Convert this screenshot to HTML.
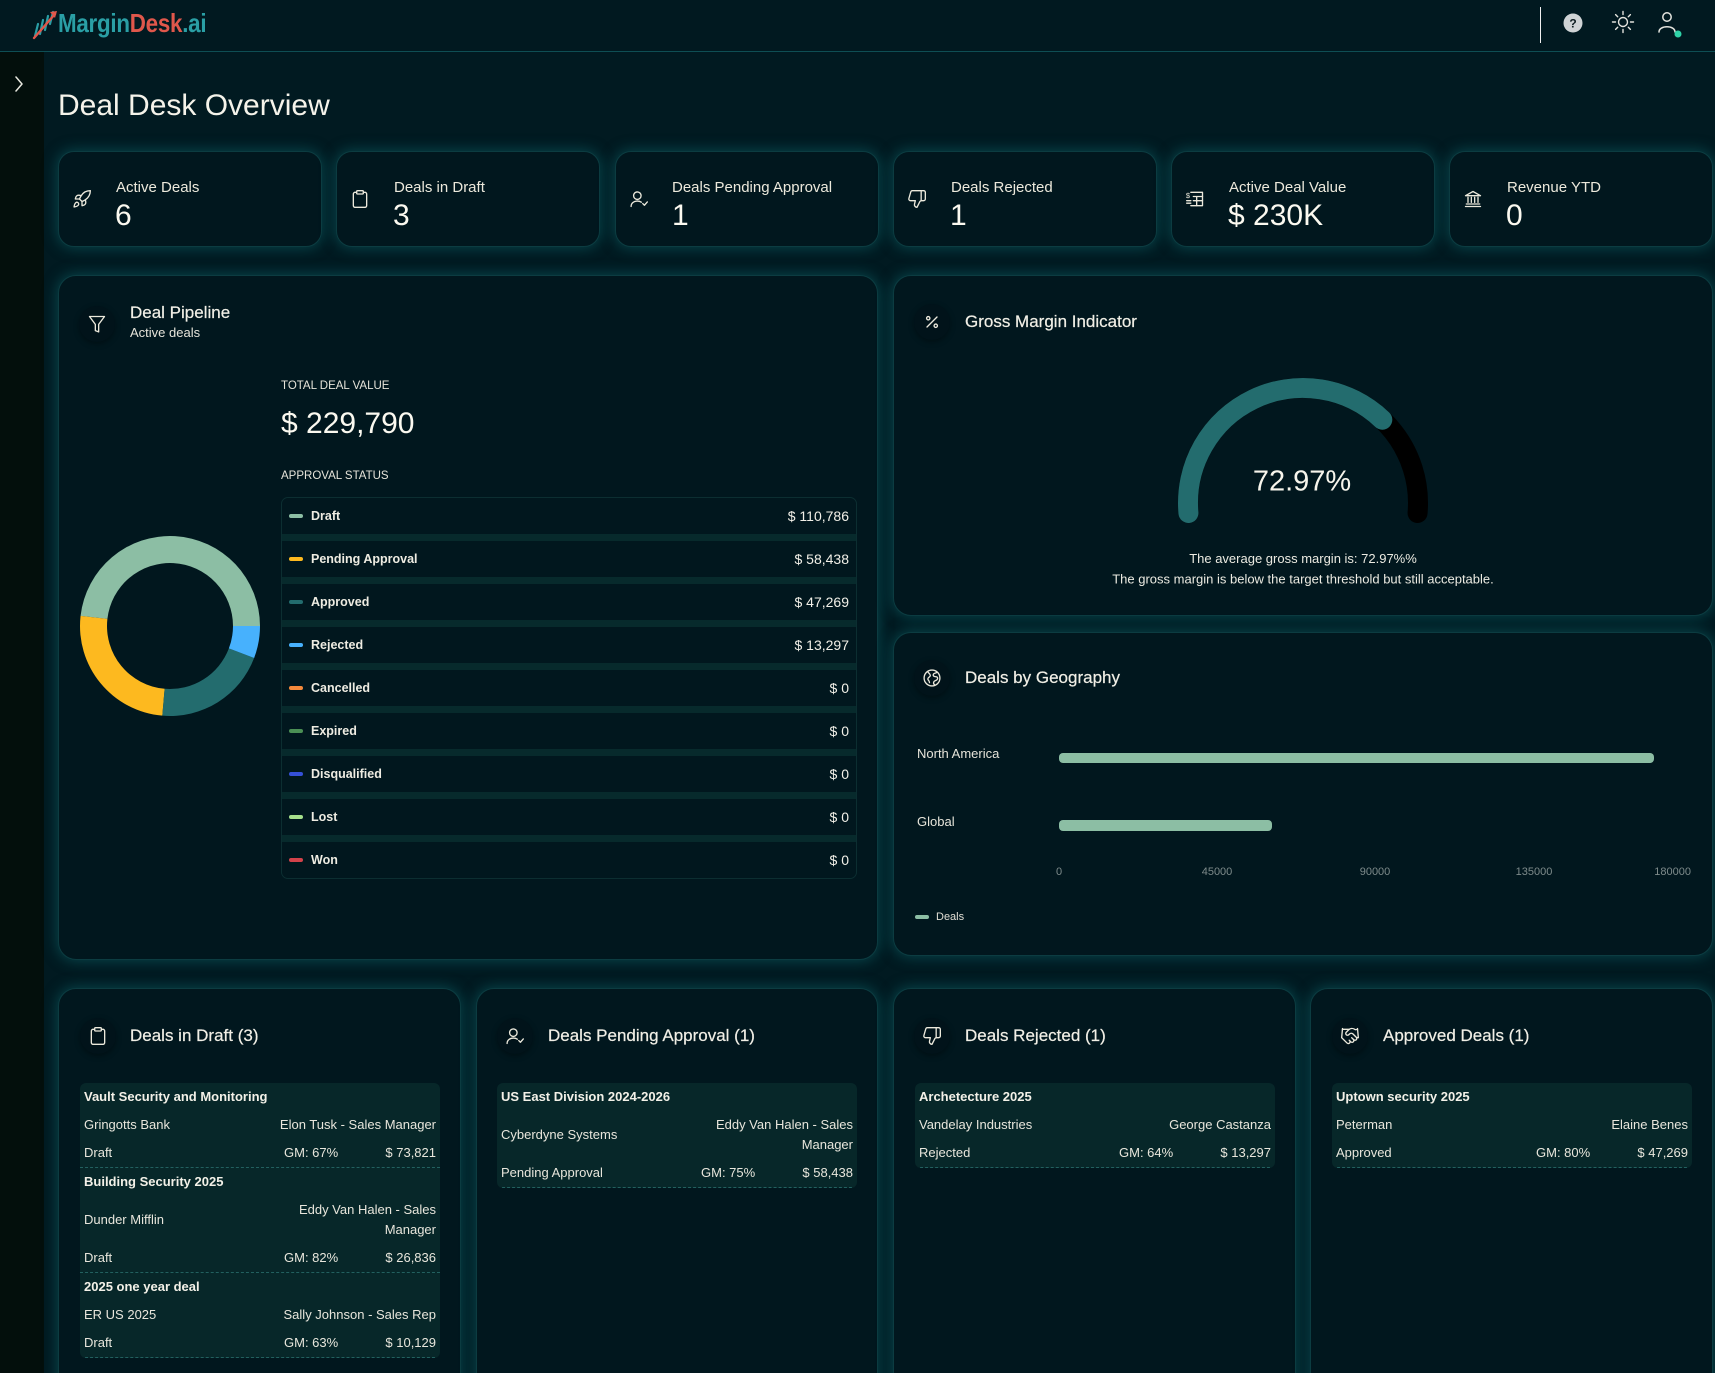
<!DOCTYPE html>
<html><head><meta charset="utf-8">
<style>
*{box-sizing:border-box;margin:0;padding:0}
html,body{width:1715px;height:1373px;overflow:hidden;background:#011a21;font-family:"Liberation Sans",Arial,sans-serif;color:#eeece2}
#wrap{position:relative;width:1715px;height:1373px;overflow:hidden;background:#011a21}
.a{position:absolute;white-space:nowrap}
.card{position:absolute;background:#01171e;border:1px solid #0c3c41;border-radius:18px;box-shadow:0 0 14px 1px rgba(14,105,112,.55)}
.kpi{top:151px;width:264px;height:96px;border-radius:16px}
.lb{font-size:15px;line-height:18px;color:#ece9dc}
.vl{font-size:30px;line-height:34px;color:#fbf9f0}
.ic{position:absolute;width:20px;height:20px}
.ic svg,.circ svg{width:20px;height:20px;fill:none;stroke:#ece9dc;stroke-width:1.6;stroke-linecap:round;stroke-linejoin:round}
.circ{position:absolute;width:36px;height:36px;border-radius:50%;background:#01131a;box-shadow:0 2px 6px rgba(0,0,0,.35);display:flex;align-items:center;justify-content:center}
.ctitle{font-size:17px;line-height:20px;color:#f1efe6;-webkit-text-stroke:0.2px #f1efe6}
.plist{position:absolute;left:281px;top:497px;width:576px;height:382px;border:1px solid #0c2e31;border-radius:7px;background:#072a2c;overflow:hidden}
.prow{position:relative;height:36px;background:#01171e;margin-bottom:7px}
.prow:last-child{margin-bottom:0}
.prow .d{position:absolute;left:7px;top:16px;width:14px;height:4px;border-radius:2px}
.prow .n{position:absolute;left:29px;top:9px;font-size:12.5px;line-height:18px;font-weight:bold;color:#eeece2}
.prow .v{position:absolute;right:7px;top:9px;font-size:14px;line-height:18px;color:#f2f0e8}
.dl{position:absolute;top:1083px;width:360px;background:#072729;border-radius:6px;overflow:hidden;font-size:13px;color:#e8e6dc}
.it{padding:4px 4px 5px;border-bottom:1px dashed #22605f}
.it .t{font-weight:bold;line-height:20px;color:#f3f1e8}
.it .r2{display:flex;justify-content:space-between;align-items:center;margin-top:8px;line-height:20px}
.it .r2 div{width:50%}
.it .r2 .rt{text-align:right}
.it .r3{position:relative;height:19px;line-height:19px;margin-top:8px}
.it .r3 .gm{position:absolute;left:200px;top:0}
.it .r3 .am{position:absolute;right:0;top:0}
</style></head><body><div id="wrap">

<!-- header -->
<div class="a" style="left:0;top:0;width:1715px;height:52px;background:#011920;border-bottom:1px solid #0e4e54"></div>
<svg class="a" style="left:31px;top:8px" width="28" height="32" viewBox="0 0 28 32">
 <g stroke="#2a9ea5" stroke-width="2.2" fill="none" stroke-linecap="round">
  <line x1="4" y1="28" x2="7" y2="16"/><line x1="9" y1="26" x2="12" y2="12"/><line x1="14" y1="22" x2="17" y2="8"/><line x1="19" y1="16" x2="22" y2="4"/>
 </g>
 <line x1="3" y1="30" x2="24" y2="6" stroke="#e0574b" stroke-width="2.4" stroke-linecap="round"/>
 <path d="M19 4 L26 3 L24 10 Z" fill="#e0574b"/>
</svg>
<div class="a" style="left:58px;top:7px;font-size:26px;line-height:32px;font-weight:bold;transform:scaleX(.86);transform-origin:left center;letter-spacing:-0.3px"><span style="color:#2a9fa5">Margin</span><span style="color:#e0574b">Desk</span><span style="color:#2a9fa5">.ai</span></div>
<div class="a" style="left:1540px;top:7px;width:1px;height:36px;background:#f0f0f0"></div>
<svg class="a" style="left:1562px;top:12px" width="22" height="22" viewBox="0 0 22 22"><circle cx="11" cy="11" r="9.5" fill="#cfd3d5"/><text x="11" y="15.5" text-anchor="middle" font-family="Liberation Sans" font-weight="bold" font-size="12" fill="#0b1a1e">?</text></svg>
<svg class="a" style="left:1611px;top:10px" width="24" height="24" viewBox="0 0 24 24" fill="none" stroke="#e4e4de" stroke-width="1.4" stroke-linecap="round"><circle cx="12" cy="12" r="4.5"/><line x1="12" y1="1.5" x2="12" y2="4.5"/><line x1="12" y1="19.5" x2="12" y2="22.5"/><line x1="1.5" y1="12" x2="4.5" y2="12"/><line x1="19.5" y1="12" x2="22.5" y2="12"/><line x1="4.6" y1="4.6" x2="6.7" y2="6.7"/><line x1="17.3" y1="17.3" x2="19.4" y2="19.4"/><line x1="4.6" y1="19.4" x2="6.7" y2="17.3"/><line x1="17.3" y1="6.7" x2="19.4" y2="4.6"/></svg>
<svg class="a" style="left:1655px;top:10px" width="30" height="30" viewBox="0 0 30 30" fill="none" stroke="#e4e4de" stroke-width="1.5" stroke-linecap="round"><circle cx="12" cy="7" r="4.2"/><path d="M4 22 C4 15 20 15 20 22"/><circle cx="23" cy="24" r="3.5" fill="#2fd3a8" stroke="none"/></svg>

<!-- sidebar -->
<div class="a" style="left:0;top:52px;width:44px;height:1321px;background:#030f0c"></div>
<svg class="a" style="left:13px;top:76px" width="12" height="16" viewBox="0 0 12 16" fill="none" stroke="#e8e8e0" stroke-width="1.5" stroke-linecap="round" stroke-linejoin="round"><polyline points="3,1 9,8 3,15"/></svg>

<!-- title -->
<div class="a" style="left:58px;top:91px;font-size:30px;line-height:30px;color:#f5f3ea">Deal Desk Overview</div>

<!-- KPI cards -->
<div class="card kpi" style="left:58px"></div>
<div class="card kpi" style="left:336px"></div>
<div class="card kpi" style="left:615px"></div>
<div class="card kpi" style="left:893px"></div>
<div class="card kpi" style="left:1171px"></div>
<div class="card kpi" style="left:1449px"></div>

<div class="ic" style="left:72px;top:189px"><svg viewBox="0 0 24 24"><path d="M4.5 16.5c-1.5 1.26-2 5-2 5s3.74-.5 5-2c.71-.84.7-2.13-.09-2.91a2.18 2.18 0 0 0-2.91-.09z"/><path d="m12 15-3-3a22 22 0 0 1 2-3.950A12.88 12.88 0 0 1 22 2c0 2.72-.78 7.5-6 11a22.35 22.35 0 0 1-4 2z"/><path d="M9 12H4s.55-3.03 2-4c1.620-1.080 5 0 5 0"/><path d="M12 15v5s3.03-.55 4-2c1.08-1.62 0-5 0-5"/></svg></div>
<div class="a lb" style="left:116px;top:179px">Active Deals</div>
<div class="a vl" style="left:115px;top:199px">6</div>

<div class="ic" style="left:350px;top:189px"><svg viewBox="0 0 24 24"><rect x="8" y="2" width="8" height="4" rx="1"/><path d="M16 4h2a2 2 0 0 1 2 2v14a2 2 0 0 1-2 2H6a2 2 0 0 1-2-2V6a2 2 0 0 1 2-2h2"/></svg></div>
<div class="a lb" style="left:394px;top:179px">Deals in Draft</div>
<div class="a vl" style="left:393px;top:199px">3</div>

<div class="ic" style="left:629px;top:189px"><svg viewBox="0 0 24 24"><circle cx="10" cy="8" r="4.5"/><path d="M2.5 21c0-4 3.5-6.5 7.5-6.5 2 0 3.5.5 4.8 1.3"/><polyline points="16.5 17.5 18.5 19.5 22 15.5"/></svg></div>
<div class="a lb" style="left:672px;top:179px">Deals Pending Approval</div>
<div class="a vl" style="left:672px;top:199px">1</div>

<div class="ic" style="left:907px;top:189px"><svg viewBox="0 0 24 24"><path d="M17 14V2"/><path d="M9 18.12 10 14H4.17a2 2 0 0 1-1.92-2.56l2.33-8A2 2 0 0 1 6.5 2H20a2 2 0 0 1 2 2v8a2 2 0 0 1-2 2h-2.76a2 2 0 0 0-1.79 1.11L12 22a3.13 3.13 0 0 1-3-3.88Z"/></svg></div>
<div class="a lb" style="left:951px;top:179px">Deals Rejected</div>
<div class="a vl" style="left:950px;top:199px">1</div>

<div class="ic" style="left:1185px;top:189px"><svg viewBox="0 0 24 24"><path d="M7 4h14v16H7"/><path d="M10 9h11M10 14h11M14 9v11"/><text x="1" y="11" font-size="9" fill="#ece9dc" stroke="none" font-family="Liberation Sans">$</text><path d="M2 14h5M2 17h5"/></svg></div>
<div class="a lb" style="left:1229px;top:179px">Active Deal Value</div>
<div class="a vl" style="left:1228px;top:199px">$ 230K</div>

<div class="ic" style="left:1463px;top:189px"><svg viewBox="0 0 24 24"><path d="M3 21h18"/><path d="M4 18h16"/><path d="M6 16v-6M10 16v-6M14 16v-6M18 16v-6"/><path d="M3 8 12 3l9 5z"/></svg></div>
<div class="a lb" style="left:1507px;top:179px">Revenue YTD</div>
<div class="a vl" style="left:1506px;top:199px">0</div>

<!-- big cards -->
<div class="card" style="left:58px;top:275px;width:820px;height:685px"></div>
<div class="card" style="left:893px;top:275px;width:820px;height:341px"></div>
<div class="card" style="left:893px;top:632px;width:820px;height:324px"></div>

<div class="circ" style="left:79px;top:306px"><svg viewBox="0 0 24 24"><polygon points="21 3 3 3 10 12.5 10 20 14 21.5 14 12.5 21 3"/></svg></div>
<div class="a ctitle" style="left:130px;top:303px">Deal Pipeline</div>
<div class="a" style="left:130px;top:325px;font-size:13px;line-height:16px;color:#e6e4da">Active deals</div>
<div class="a" style="left:281px;top:379px;font-size:11.5px;line-height:14px;color:#e6e4da">TOTAL DEAL VALUE</div>
<div class="a" style="left:281px;top:407px;font-size:30px;line-height:34px;color:#fbf9f0">$ 229,790</div>
<div class="a" style="left:281px;top:469px;font-size:11.5px;line-height:14px;color:#e6e4da">APPROVAL STATUS</div>

<div class="plist">
 <div class="prow"><div class="d" style="background:#8cbea4"></div><div class="n">Draft</div><div class="v">$ 110,786</div></div>
 <div class="prow"><div class="d" style="background:#fdb91f"></div><div class="n">Pending Approval</div><div class="v">$ 58,438</div></div>
 <div class="prow"><div class="d" style="background:#236c6e"></div><div class="n">Approved</div><div class="v">$ 47,269</div></div>
 <div class="prow"><div class="d" style="background:#47b1fd"></div><div class="n">Rejected</div><div class="v">$ 13,297</div></div>
 <div class="prow"><div class="d" style="background:#f58a3c"></div><div class="n">Cancelled</div><div class="v">$ 0</div></div>
 <div class="prow"><div class="d" style="background:#4b8f55"></div><div class="n">Expired</div><div class="v">$ 0</div></div>
 <div class="prow"><div class="d" style="background:#3550d8"></div><div class="n">Disqualified</div><div class="v">$ 0</div></div>
 <div class="prow"><div class="d" style="background:#a6e08c"></div><div class="n">Lost</div><div class="v">$ 0</div></div>
 <div class="prow"><div class="d" style="background:#d2424a"></div><div class="n">Won</div><div class="v">$ 0</div></div>
</div>

<div class="circ" style="left:914px;top:304px"><svg viewBox="0 0 24 24"><line x1="18" y1="6" x2="6" y2="18"/><circle cx="7.5" cy="7.5" r="2"/><circle cx="16.5" cy="16.5" r="2"/></svg></div>
<div class="a ctitle" style="left:965px;top:312px">Gross Margin Indicator</div>

<div class="circ" style="left:914px;top:660px"><svg viewBox="0 0 24 24"><circle cx="12" cy="12" r="9.5"/><path d="M7 4.5c1 2 3 2.5 3 4.5s-3 2-3 4 2 2 2 4.5"/><path d="M17.5 5.5c-1.5 1-3.5.5-4 2.5s2 2.5 3.5 2.5 2.5 2 1 3.5-3.5 1-4 3 1 3 1 3"/></svg></div>
<div class="a ctitle" style="left:965px;top:668px">Deals by Geography</div>
<div class="a" style="left:917px;top:745px;font-size:13px;line-height:18px;color:#e6e4da">North America</div>
<div class="a" style="left:917px;top:813px;font-size:13px;line-height:18px;color:#e6e4da">Global</div>
<div class="a" style="left:936px;top:910px;font-size:11px;line-height:14px;color:#e0ded4">Deals</div>

<!-- charts overlay -->
<svg class="a" style="left:0;top:0;pointer-events:none" width="1715" height="1373" viewBox="0 0 1715 1373">
 <path d="M260,626 A90,90 0 0 0 80.57,615.91 L107.40,618.93 A63,63 0 0 1 233,626 Z" fill="#8cbea4"/>
 <path d="M80.57,615.91 A90,90 0 0 0 162.33,715.67 L164.63,688.77 A63,63 0 0 1 107.40,618.93 Z" fill="#fdb91f"/>
 <path d="M162.33,715.67 A90,90 0 0 0 254.12,658.01 L228.88,648.40 A63,63 0 0 1 164.63,688.77 Z" fill="#236c6e"/>
 <path d="M254.12,658.01 A90,90 0 0 0 260,626 L233,626 A63,63 0 0 1 228.88,648.40 Z" fill="#47b1fd"/>
 <path d="M1188.44,513.02 A115,115 0 1 1 1417.56,513.02" fill="none" stroke="#000" stroke-width="20" stroke-linecap="round"/>
 <path d="M1188.44,513.02 A115,115 0 0 1 1382.3,419.7" fill="none" stroke="#236c6e" stroke-width="20" stroke-linecap="round"/>
 <text x="1302" y="490.5" text-anchor="middle" font-family="Liberation Sans" font-size="29" fill="#f7f5ec">72.97%</text>
 <text x="1303" y="563" text-anchor="middle" font-family="Liberation Sans" font-size="13" fill="#ecebe2">The average gross margin is: 72.97%%</text>
 <text x="1303" y="583.5" text-anchor="middle" font-family="Liberation Sans" font-size="13" fill="#ecebe2">The gross margin is below the target threshold but still acceptable.</text>
 <rect x="1059" y="753" width="595" height="10" rx="4" fill="#8cbea4"/>
 <rect x="1059" y="820" width="213" height="11" rx="4" fill="#8cbea4"/>
 <g font-family="Liberation Sans" font-size="11" fill="#7e8b8b">
  <text x="1059" y="875" text-anchor="middle">0</text>
  <text x="1217" y="875" text-anchor="middle">45000</text>
  <text x="1375" y="875" text-anchor="middle">90000</text>
  <text x="1534" y="875" text-anchor="middle">135000</text>
  <text x="1691" y="875" text-anchor="end">180000</text>
 </g>
 <rect x="915" y="915" width="14" height="4" rx="2" fill="#8cbea4"/>
</svg>

<!-- bottom cards -->
<div class="card" style="left:58px;top:988px;width:403px;height:430px"></div>
<div class="card" style="left:476px;top:988px;width:402px;height:430px"></div>
<div class="card" style="left:893px;top:988px;width:403px;height:430px"></div>
<div class="card" style="left:1310px;top:988px;width:403px;height:430px"></div>

<div class="circ" style="left:80px;top:1018px"><svg viewBox="0 0 24 24"><rect x="8" y="2" width="8" height="4" rx="1"/><path d="M16 4h2a2 2 0 0 1 2 2v14a2 2 0 0 1-2 2H6a2 2 0 0 1-2-2V6a2 2 0 0 1 2-2h2"/></svg></div>
<div class="a ctitle" style="left:130px;top:1026px">Deals in Draft (3)</div>
<div class="circ" style="left:497px;top:1018px"><svg viewBox="0 0 24 24"><circle cx="10" cy="8" r="4.5"/><path d="M2.5 21c0-4 3.5-6.5 7.5-6.5 2 0 3.5.5 4.8 1.3"/><polyline points="16.5 17.5 18.5 19.5 22 15.5"/></svg></div>
<div class="a ctitle" style="left:548px;top:1026px">Deals Pending Approval (1)</div>
<div class="circ" style="left:914px;top:1018px"><svg viewBox="0 0 24 24"><path d="M17 14V2"/><path d="M9 18.12 10 14H4.17a2 2 0 0 1-1.92-2.56l2.33-8A2 2 0 0 1 6.5 2H20a2 2 0 0 1 2 2v8a2 2 0 0 1-2 2h-2.76a2 2 0 0 0-1.79 1.11L12 22a3.13 3.13 0 0 1-3-3.88Z"/></svg></div>
<div class="a ctitle" style="left:965px;top:1026px">Deals Rejected (1)</div>
<div class="circ" style="left:1332px;top:1018px"><svg viewBox="0 0 24 24"><path d="m11 17 2 2a1 1 0 1 0 3-3"/><path d="m14 14 2.5 2.5a1 1 0 1 0 3-3l-3.88-3.88a3 3 0 0 0-4.24 0l-.88.88a1 1 0 1 1-3-3l2.81-2.810a5.79 5.79 0 0 1 7.06-.87l.47.28a2 2 0 0 0 1.42.25L21 4"/><path d="m21 3 1 11h-2"/><path d="M3 3 2 14l6.5 6.5a1 1 0 1 0 3-3"/><path d="M3 4h8"/></svg></div>
<div class="a ctitle" style="left:1383px;top:1026px">Approved Deals (1)</div>

<div class="dl" style="left:80px">
 <div class="it"><div class="t">Vault Security and Monitoring</div>
  <div class="r2"><div>Gringotts Bank</div><div class="rt">Elon Tusk - Sales Manager</div></div>
  <div class="r3"><span>Draft</span><span class="gm">GM: 67%</span><span class="am">$ 73,821</span></div></div>
 <div class="it"><div class="t">Building Security 2025</div>
  <div class="r2"><div>Dunder Mifflin</div><div class="rt">Eddy Van Halen - Sales Manager</div></div>
  <div class="r3"><span>Draft</span><span class="gm">GM: 82%</span><span class="am">$ 26,836</span></div></div>
 <div class="it"><div class="t">2025 one year deal</div>
  <div class="r2"><div>ER US 2025</div><div class="rt">Sally Johnson - Sales Rep</div></div>
  <div class="r3"><span>Draft</span><span class="gm">GM: 63%</span><span class="am">$ 10,129</span></div></div>
</div>

<div class="dl" style="left:497px">
 <div class="it"><div class="t">US East Division 2024-2026</div>
  <div class="r2"><div>Cyberdyne Systems</div><div class="rt">Eddy Van Halen - Sales Manager</div></div>
  <div class="r3"><span>Pending Approval</span><span class="gm">GM: 75%</span><span class="am">$ 58,438</span></div></div>
</div>

<div class="dl" style="left:915px">
 <div class="it"><div class="t">Archetecture 2025</div>
  <div class="r2"><div>Vandelay Industries</div><div class="rt">George Castanza</div></div>
  <div class="r3"><span>Rejected</span><span class="gm">GM: 64%</span><span class="am">$ 13,297</span></div></div>
</div>

<div class="dl" style="left:1332px">
 <div class="it"><div class="t">Uptown security 2025</div>
  <div class="r2"><div>Peterman</div><div class="rt">Elaine Benes</div></div>
  <div class="r3"><span>Approved</span><span class="gm">GM: 80%</span><span class="am">$ 47,269</span></div></div>
</div>

</div></body></html>
